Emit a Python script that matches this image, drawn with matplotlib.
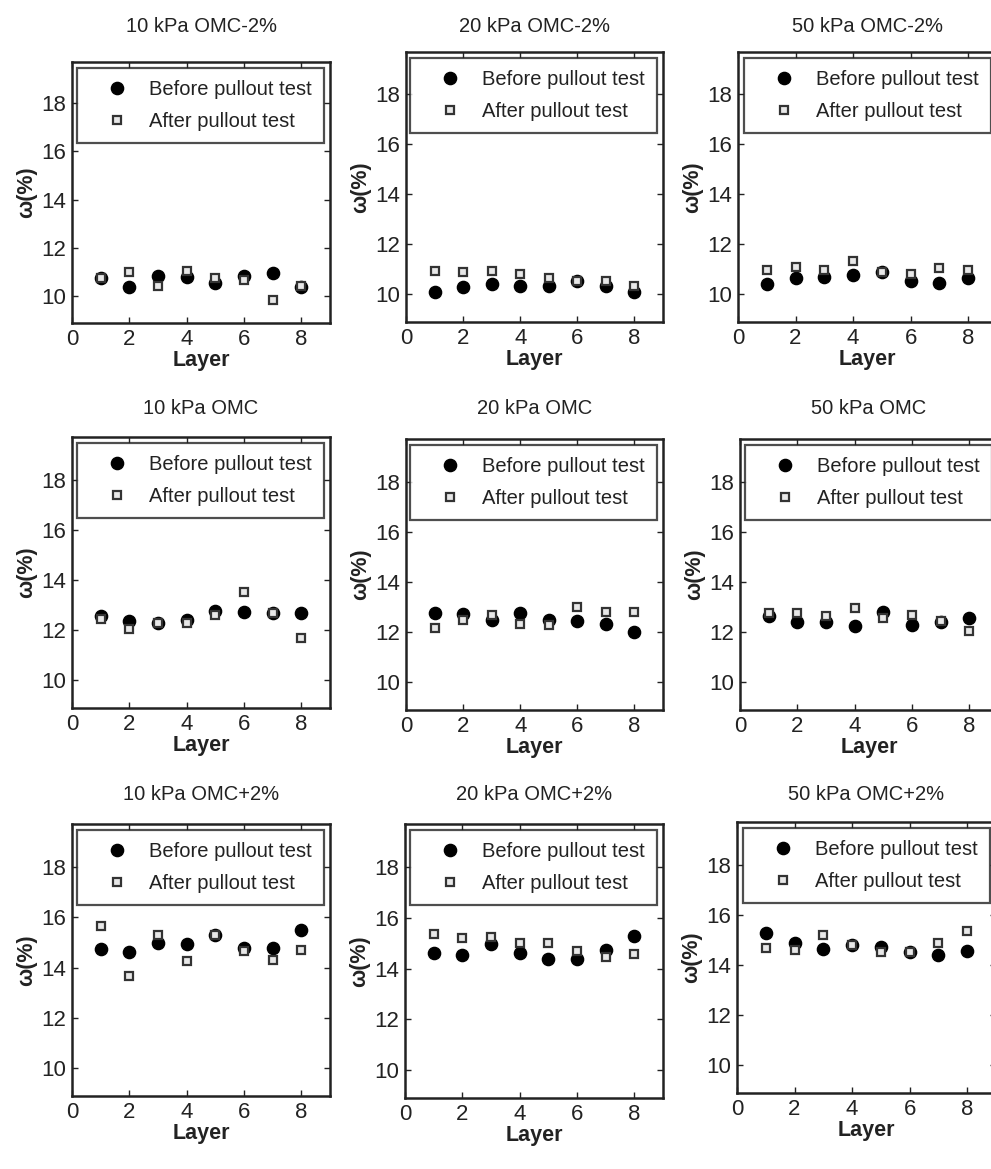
import numpy as np
import matplotlib
matplotlib.use("Agg")
import matplotlib.pyplot as plt

plt.rcParams['font.family'] = ['Liberation Sans', 'DejaVu Sans']

layers = [1, 2, 3, 4, 5, 6, 7, 8]

titles = ["10 kPa OMC-2%", "20 kPa OMC-2%", "50 kPa OMC-2%",
          "10 kPa OMC", "20 kPa OMC", "50 kPa OMC",
          "10 kPa OMC+2%", "20 kPa OMC+2%", "50 kPa OMC+2%"]

before = [
    [10.75, 10.38, 10.85, 10.82, 10.55, 10.85, 10.95, 10.40],
    [10.10, 10.30, 10.43, 10.35, 10.35, 10.55, 10.35, 10.10],
    [10.42, 10.65, 10.68, 10.78, 10.88, 10.54, 10.45, 10.65],
    [12.58, 12.37, 12.30, 12.41, 12.78, 12.71, 12.68, 12.68],
    [12.77, 12.71, 12.50, 12.77, 12.50, 12.44, 12.33, 12.00],
    [12.64, 12.40, 12.40, 12.26, 12.80, 12.30, 12.42, 12.56],
    [14.72, 14.62, 14.96, 14.92, 15.30, 14.76, 14.76, 15.50],
    [14.62, 14.53, 14.96, 14.60, 14.39, 14.39, 14.75, 15.28],
    [15.26, 14.86, 14.65, 14.80, 14.72, 14.52, 14.39, 14.55],
]

after = [
    [10.75, 11.00, 10.45, 11.05, 10.75, 10.68, 9.86, 10.45],
    [10.95, 10.88, 10.95, 10.80, 10.65, 10.55, 10.55, 10.35],
    [10.98, 11.10, 10.98, 11.32, 10.88, 10.80, 11.07, 10.98],
    [12.44, 12.03, 12.30, 12.30, 12.60, 13.53, 12.68, 11.70],
    [12.17, 12.50, 12.70, 12.33, 12.30, 13.00, 12.80, 12.80],
    [12.78, 12.78, 12.64, 12.95, 12.56, 12.67, 12.46, 12.05],
    [15.64, 13.68, 15.30, 14.25, 15.30, 14.67, 14.30, 14.70],
    [15.36, 15.20, 15.26, 15.00, 15.00, 14.68, 14.45, 14.56],
    [14.68, 14.58, 15.20, 14.80, 14.52, 14.52, 14.86, 15.35],
]

# panel boxes in pixels: left, top, right, bottom
boxes = [(72, 62, 330, 323), (406, 52, 663, 322), (738, 52, 997, 322),
         (72, 437, 330, 708), (406, 439, 663, 710), (740, 439, 998, 710),
         (72, 824, 330, 1096), (405, 824, 663, 1098), (737, 822, 996, 1093)]
title_y = [27, 409, 794]   # title centre per row, pixels from top

W, H = 991, 1169
fig = plt.figure(figsize=(W / 100, H / 100), dpi=100)
ink = '#222222'

for i in range(9):
    l, t, r, b = boxes[i]
    ax = fig.add_axes([l / W, 1 - b / H, (r - l) / W, (b - t) / H])
    ax.plot(layers, before[i], 'o', ms=8.8, color='black', label='Before pullout test', zorder=3)
    ax.plot(layers, after[i], 's', ms=6, mfc='#e8e8e8', mec='#333333', mew=1.6,
            label='After pullout test', zorder=4)
    ax.set_xlim(0, 9)
    ax.set_ylim(8.9, 19.7)
    ax.set_xticks([0, 2, 4, 6, 8])
    ax.set_yticks([10, 12, 14, 16, 18])
    ax.tick_params(direction='in', top=True, right=True, length=4, width=1,
                   labelsize=16, pad=4, colors=ink)
    for s in ax.spines.values():
        s.set_linewidth(1.8)
        s.set_color(ink)
    fig.text((l + r) / 2 / W, 1 - title_y[i // 3] / H, titles[i], fontsize=14.5,
             ha='center', va='center', color=ink)
    ax.set_xlabel('Layer', fontsize=15.5, fontweight='bold', labelpad=0, color=ink)
    ax.set_ylabel('ω(%)', fontsize=15.5, fontweight='bold', labelpad=3, color=ink)
    leg = ax.legend(loc='upper right', fontsize=14.5, frameon=True, fancybox=False,
                    edgecolor=ink, borderaxespad=0.3, handlelength=2.8,
                    handletextpad=0.2, labelspacing=0.65, borderpad=0.6)
    leg.get_frame().set_linewidth(1.6)
    for txt in leg.get_texts():
        txt.set_color(ink)

fig.savefig("out.png", dpi=100)
